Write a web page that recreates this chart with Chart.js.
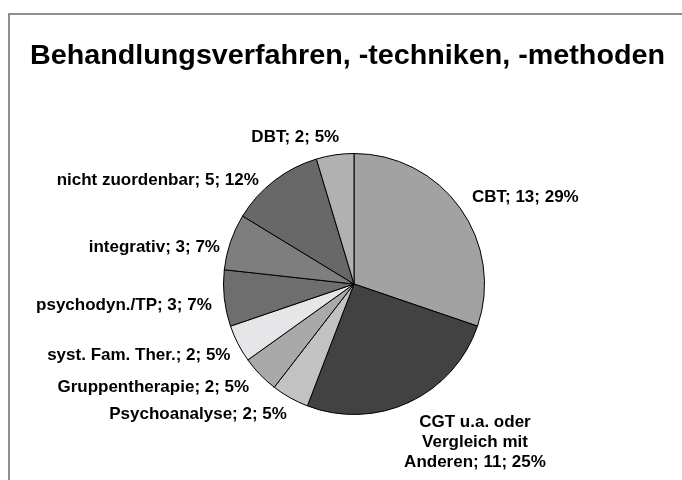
<!DOCTYPE html>
<html>
<head>
<meta charset="utf-8">
<script src="https://cdn.jsdelivr.net/npm/chart.js@4/dist/chart.umd.min.js"></script>
<style>
  html, body { margin: 0; padding: 0; background: #ffffff; }
  #wrap { width: 682px; height: 480px; position: relative; }
</style>
</head>
<body>
<div id="wrap"><canvas id="c" width="682" height="480"></canvas></div>
<script>
// ---- data ----
const titleText = "Behandlungsverfahren, -techniken, -methoden";
const categories = [
  "CBT",
  "CGT u.a. oder Vergleich mit Anderen",
  "Psychoanalyse",
  "Gruppentherapie",
  "syst. Fam. Ther.",
  "psychodyn./TP",
  "integrativ",
  "nicht zuordenbar",
  "DBT"
];
const counts = [13, 11, 2, 2, 2, 3, 3, 5, 2];
const percents = [29, 25, 5, 5, 5, 7, 7, 12, 5];
// label text lines (wrapping as in the original)
const labelLines = [
  ["CBT; 13; 29%"],
  ["CGT u.a. oder", "Vergleich mit", "Anderen; 11; 25%"],
  ["Psychoanalyse; 2; 5%"],
  ["Gruppentherapie; 2; 5%"],
  ["syst. Fam. Ther.; 2; 5%"],
  ["psychodyn./TP; 3; 7%"],
  ["integrativ; 3; 7%"],
  ["nicht zuordenbar; 5; 12%"],
  ["DBT; 2; 5%"]
];

// ---- styling / layout ----
const sliceColors = ["#a2a2a2", "#424242", "#c2c2c2", "#a9a9a9", "#e6e6e8", "#6e6e6e", "#7e7e7e", "#686868", "#b1b1b1"];
// label centre relative to pie centre, in units of the pie radius
const labelPos = [
  [1.313, -0.664],
  [0.927, 1.214],
  [-1.195, 1.000],
  [-1.538, 0.794],
  [-1.649, 0.550],
  [-1.763, 0.160],
  [-1.530, -0.282],
  [-1.504, -0.794],
  [-0.450, -1.122]
];
const FONT = "'Liberation Sans', Arial, Helvetica, sans-serif";

const decorPlugin = {
  id: 'decor',
  beforeDraw(chart) {
    const ctx = chart.ctx;
    ctx.save();
    ctx.strokeStyle = '#6a6a6a';
    ctx.lineWidth = 1.5;
    ctx.beginPath();
    ctx.moveTo(9, 480);
    ctx.lineTo(9, 14);
    ctx.lineTo(682, 14);
    ctx.stroke();
    ctx.fillStyle = '#000';
    ctx.font = 'bold 27px ' + FONT;
    ctx.textAlign = 'center';
    ctx.textBaseline = 'alphabetic';
    const w = ctx.measureText(titleText).width;
    const sx = 635 / w;
    ctx.translate(347.5, 64);
    ctx.scale(sx, 1);
    ctx.fillText(titleText, 0, 0);
    ctx.restore();
  },
  afterDatasetsDraw(chart) {
    const ctx = chart.ctx;
    const meta = chart.getDatasetMeta(0);
    ctx.save();
    ctx.fillStyle = '#000';
    ctx.font = 'bold 17px ' + FONT;
    ctx.textAlign = 'center';
    ctx.textBaseline = 'middle';
    meta.data.forEach((arc, i) => {
      const p = arc.getProps(['x', 'y', 'outerRadius'], true);
      const cx = p.x + labelPos[i][0] * p.outerRadius;
      const cy = p.y + labelPos[i][1] * p.outerRadius;
      const lines = labelLines[i];
      const lh = 20;
      const y0 = cy - (lines.length - 1) * lh / 2;
      lines.forEach((t, k) => ctx.fillText(t, cx, y0 + k * lh));
    });
    ctx.restore();
  }
};

new Chart(document.getElementById('c'), {
  type: 'pie',
  data: {
    labels: categories,
    datasets: [{
      data: counts,
      backgroundColor: sliceColors,
      borderColor: '#000000',
      borderWidth: 1,
      hoverOffset: 0
    }]
  },
  options: {
    responsive: false,
    animation: false,
    events: [],
    layout: { padding: { left: 223, right: 197, top: 153, bottom: 65 } },
    plugins: {
      legend: { display: false },
      title: { display: false },
      tooltip: { enabled: false }
    }
  },
  plugins: [decorPlugin]
});
</script>
</body>
</html>
